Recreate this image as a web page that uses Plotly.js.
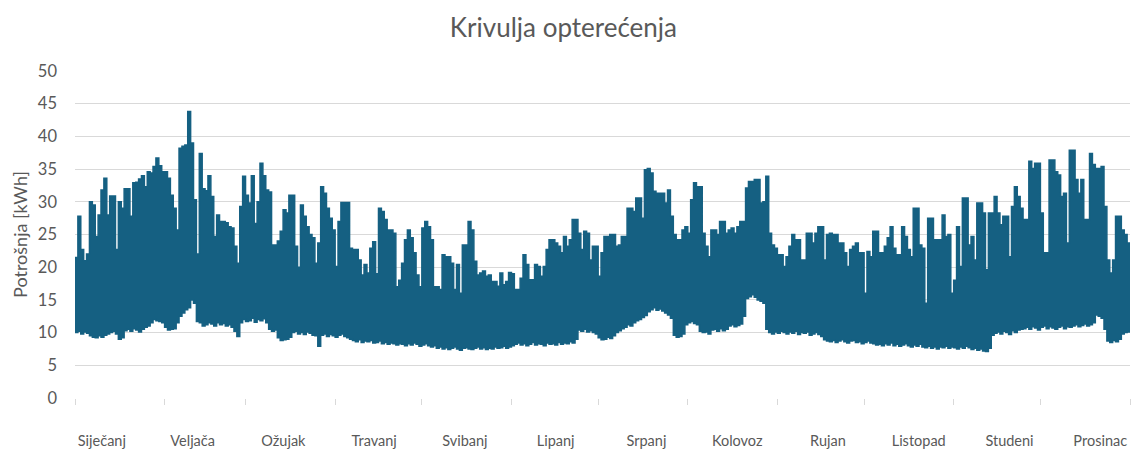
<!DOCTYPE html>
<html>
<head>
<meta charset="utf-8">
<script src="https://cdn.plot.ly/plotly-3.0.1.min.js"></script>
<style>
  html, body { margin: 0; padding: 0; background: #ffffff; }
  #chart { width: 1136px; height: 450px; }
</style>
</head>
<body>
<div id="chart"></div>
<script>
// Month names shown under the axis and the length of each month in days
const monthLabels = ['Siječanj', 'Veljača', 'Ožujak', 'Travanj', 'Svibanj', 'Lipanj',
                     'Srpanj', 'Kolovoz', 'Rujan', 'Listopad', 'Studeni', 'Prosinac'];
const daysInMonth = [31, 28, 31, 30, 31, 30, 31, 31, 30, 31, 30, 31];

// Daily peak consumption [kWh], one value per day of the year
const dailyPeak = [
  21.5, 27.8, 22.7, 21.0, 22.0, 30.0, 29.5, 24.7, 28.0, 31.8,
  33.6, 28.0, 30.9, 30.9, 22.7, 30.0, 29.0, 32.0, 32.0, 27.8,
  32.9, 33.0, 33.5, 34.0, 32.3, 34.6, 34.4, 35.4, 36.7, 35.5,
  34.6, 34.6, 33.6, 31.0, 29.0, 25.7, 38.2, 38.5, 38.7, 43.8,
  39.0, 30.3, 22.0, 37.4, 32.0, 31.7, 34.0, 30.8, 24.7, 28.0,
  27.0, 27.0, 26.8, 26.2, 26.0, 23.2, 20.6, 29.3, 33.9, 31.0,
  29.8, 34.0, 26.7, 30.0, 35.9, 34.0, 31.8, 31.5, 23.4, 23.4,
  24.0, 25.5, 28.8, 28.3, 31.0, 31.0, 23.2, 20.0, 29.5, 27.8,
  26.2, 25.0, 24.5, 20.6, 23.7, 32.3, 31.3, 29.0, 27.5, 25.7,
  20.1, 27.0, 29.9, 29.9, 29.9, 22.9, 22.7, 22.7, 21.1, 18.8,
  20.4, 19.1, 22.9, 23.9, 19.0, 29.0, 28.5, 27.3, 25.7, 25.7,
  25.2, 17.0, 18.0, 20.6, 24.2, 25.7, 24.5, 22.2, 18.8, 17.0,
  26.0, 27.0, 26.2, 24.2, 17.0, 17.0, 16.6, 21.9, 21.6, 21.6,
  20.6, 16.6, 20.4, 16.0, 23.4, 23.4, 27.0, 25.7, 20.9, 18.8,
  19.1, 19.4, 18.6, 18.8, 17.8, 17.8, 17.1, 19.1, 17.3, 17.8,
  19.2, 19.0, 16.6, 16.6, 18.3, 21.9, 20.4, 18.1, 18.1, 20.4,
  20.1, 18.6, 20.1, 22.7, 24.2, 24.2, 23.7, 23.2, 22.2, 24.7,
  23.2, 24.2, 27.3, 27.3, 25.2, 22.7, 25.5, 25.2, 21.1, 23.2,
  23.2, 18.6, 22.2, 24.7, 24.7, 25.0, 25.0, 23.2, 23.4, 24.7,
  24.7, 29.0, 29.0, 28.5, 30.6, 30.6, 27.5, 34.9, 35.1, 34.4,
  31.6, 31.3, 31.3, 31.3, 29.8, 31.8, 27.8, 25.0, 24.2, 24.2,
  25.7, 26.2, 25.2, 30.3, 32.9, 32.3, 32.3, 25.2, 23.2, 21.6,
  25.7, 25.7, 25.0, 27.0, 27.0, 25.2, 25.7, 26.0, 25.2, 26.2,
  27.0, 27.0, 32.1, 33.1, 33.1, 33.4, 33.4, 29.8, 30.0, 33.9,
  25.2, 23.4, 22.9, 21.9, 21.9, 20.1, 21.6, 23.2, 25.0, 24.2,
  24.2, 21.1, 21.1, 25.2, 25.2, 23.7, 25.2, 26.2, 26.2, 21.1,
  25.0, 25.2, 25.0, 25.0, 23.7, 23.7, 22.2, 20.1, 22.7, 23.2,
  23.7, 22.2, 22.2, 16.0, 22.4, 21.6, 25.5, 25.5, 22.2, 22.2,
  23.2, 24.5, 26.2, 22.9, 21.9, 21.9, 26.2, 24.7, 22.7, 21.6,
  29.0, 29.0, 23.4, 22.9, 14.5, 27.5, 27.5, 24.2, 24.2, 24.2,
  28.0, 24.7, 25.0, 16.0, 18.0, 26.2, 20.1, 30.6, 30.6, 23.4,
  24.7, 21.1, 29.8, 29.8, 28.3, 19.6, 28.3, 28.3, 30.8, 28.3,
  26.5, 27.8, 27.8, 21.6, 29.3, 32.3, 30.8, 29.0, 27.3, 27.3,
  36.2, 35.1, 35.9, 35.9, 28.3, 22.2, 22.2, 36.4, 36.4, 34.6,
  34.1, 30.8, 31.3, 23.7, 37.9, 37.9, 33.4, 31.3, 33.4, 27.3,
  27.3, 37.4, 35.7, 35.1, 35.1, 35.4, 29.3, 21.1, 19.1, 21.1,
  27.8, 27.8, 25.7, 25.0, 23.7
];

// Daily minimum (night-time base) consumption [kWh], one value per day
const dailyBase = [
  10.0, 10.2, 9.8, 10.1, 9.9, 9.5, 9.3, 9.2, 9.5, 9.3,
  9.6, 9.8, 10.0, 10.2, 9.8, 9.0, 9.2, 10.3, 10.5, 10.2,
  10.6, 10.4, 10.1, 10.5, 10.8, 11.0, 11.5, 12.0, 11.8, 11.7,
  11.5, 10.8, 10.4, 10.5, 10.6, 11.5, 12.5, 13.0, 13.5, 13.8,
  15.0, 14.5, 11.7, 11.5, 11.0, 11.2, 11.5, 11.3, 11.0, 11.5,
  11.2, 11.4, 11.0, 11.2, 10.8, 10.2, 9.4, 11.5, 12.0, 11.7,
  11.8, 12.2, 11.6, 12.0, 11.8, 12.1, 11.5, 10.5, 10.2, 10.4,
  9.2, 8.8, 8.9, 9.0, 9.3, 10.0, 10.2, 9.8, 10.0, 9.7,
  10.1, 9.9, 9.6, 9.5, 7.9, 9.6, 9.8, 9.4, 9.7, 9.5,
  9.3, 9.6, 9.8, 9.4, 9.2, 9.0, 8.8, 8.6, 8.9, 8.5,
  8.7, 8.6, 8.8, 8.4, 8.5, 8.7, 8.3, 8.5, 8.2, 8.4,
  8.3, 8.1, 8.3, 8.2, 8.0, 8.3, 8.1, 8.4, 8.2, 7.9,
  8.1, 8.3, 8.0, 7.8, 8.0, 7.6, 7.8, 7.5, 7.7, 7.4,
  7.6, 7.8, 7.5, 7.3, 7.6, 7.7, 7.5, 7.4, 7.6, 7.8,
  7.5, 7.7, 7.4, 7.6, 7.5, 7.8, 7.6, 7.7, 7.9, 7.6,
  7.8, 8.0, 8.2, 8.4, 8.1, 8.3, 8.0, 8.2, 8.5, 8.1,
  8.3, 8.2, 8.0, 8.4, 8.2, 8.3, 8.1, 8.5, 8.2, 8.4,
  8.3, 8.6, 8.4, 9.0, 10.4, 10.2, 10.5, 10.1, 10.3, 10.0,
  9.8, 9.2, 8.9, 9.0, 9.3, 9.1, 9.5, 10.0, 10.3, 10.6,
  10.8, 11.2, 11.0, 11.5, 11.8, 12.0, 12.3, 12.6, 13.2, 13.5,
  13.8, 13.4, 13.6, 13.3, 13.0, 12.7, 12.2, 9.6, 9.3, 9.4,
  9.8, 11.2, 11.5, 11.7, 11.4, 11.2, 10.2, 10.0, 10.1, 9.8,
  10.4, 10.5, 10.2, 10.6, 10.3, 10.5, 11.0, 11.2, 10.9, 11.1,
  11.3, 12.5, 15.2, 15.5, 15.8, 15.4, 15.0, 14.8, 14.5, 10.5,
  10.0, 9.8, 10.1, 9.9, 10.2, 10.0, 9.8, 10.1, 9.9, 10.2,
  9.7, 10.0, 9.9, 10.1, 9.6, 9.8, 10.0, 9.7, 9.4, 8.9,
  8.7, 8.6, 8.8, 8.5, 8.7, 8.9, 8.6, 8.4, 8.7, 8.8,
  8.5, 8.6, 8.3, 8.5, 8.7, 8.4, 8.3, 8.1, 8.2, 8.0,
  8.3, 8.1, 8.4, 8.0, 8.2, 7.9, 8.1, 8.3, 8.0, 7.8,
  8.1, 7.9, 8.2, 7.8, 7.7, 7.9, 7.6, 7.8, 7.5, 7.8,
  7.7, 7.9, 7.6, 7.8, 7.7, 7.5, 7.8, 7.6, 7.9, 7.7,
  7.4, 7.6, 7.3, 7.5, 7.2, 7.1, 7.6, 9.6, 9.9, 10.1,
  9.8, 10.2, 10.0, 9.7, 10.3, 10.0, 10.4, 10.5, 10.6, 10.8,
  10.5, 10.9, 10.7, 10.4, 10.8, 11.0, 10.6, 10.9, 10.7, 10.5,
  10.8, 11.0, 10.6, 10.9, 10.8, 11.0, 11.2, 10.9, 11.1, 11.3,
  11.0, 11.2, 11.5, 12.7, 12.5, 12.2, 10.5, 8.7, 8.5, 8.8,
  8.6, 9.0, 9.8, 10.0, 10.1
];

const seriesColor = '#156082';
const textColor = '#595959';
const gridColor = '#d9d9d9';
const fontFamily = 'Lato, "Open Sans", sans-serif';

// Day index on the x axis; each day is drawn as a step one day wide,
// so the last step is closed at the end of the year.
const dayCount = dailyPeak.length;
const xDays = dailyPeak.map((_, i) => i).concat([dayCount]);
const yPeak = dailyPeak.concat([dailyPeak[dayCount - 1]]);
const yBase = dailyBase.concat([dailyBase[dayCount - 1]]);

// Tick marks sit on month boundaries
const monthStarts = [0];
daysInMonth.forEach(d => monthStarts.push(monthStarts[monthStarts.length - 1] + d));

// Month labels are spread evenly along the axis
const labelStart = 9.3;
const labelStep = 31.4;
const labelPositions = monthLabels.map((_, i) => labelStart + i * labelStep);

const traces = [
  {
    x: xDays, y: yBase, type: 'scatter', mode: 'lines',
    line: { color: seriesColor, width: 1.5, shape: 'hv' },
    hoverinfo: 'skip', showlegend: false
  },
  {
    x: xDays, y: yPeak, type: 'scatter', mode: 'lines',
    fill: 'tonexty', fillcolor: seriesColor,
    line: { color: seriesColor, width: 1.5, shape: 'hv' },
    name: 'Potrošnja', showlegend: false
  }
];

const layout = {
  width: 1136, height: 450,
  margin: { l: 75, r: 6, t: 71, b: 52 },
  paper_bgcolor: '#ffffff', plot_bgcolor: '#ffffff',
  font: { family: fontFamily, color: textColor },
  title: {
    text: 'Krivulja opterećenja',
    font: { family: fontFamily, size: 26, color: textColor },
    xref: 'container', x: 0.496, xanchor: 'center',
    yref: 'container', y: 0.938, yanchor: 'middle'
  },
  xaxis: {
    range: [0, dayCount],
    tickmode: 'array', tickvals: labelPositions, ticktext: monthLabels,
    ticks: '', ticklabelstandoff: 32,
    tickfont: { family: fontFamily, size: 14.5, color: textColor },
    showgrid: false, zeroline: false, showline: false,
    minor: { tickmode: 'array', tickvals: monthStarts, ticks: 'outside', ticklen: 6,
             tickcolor: gridColor, tickwidth: 1, showgrid: false },
    fixedrange: true
  },
  yaxis: {
    range: [0, 50], dtick: 5, tick0: 0,
    ticks: '', ticklabelstandoff: 17,
    tickfont: { family: fontFamily, size: 16.5, color: textColor },
    gridcolor: gridColor, gridwidth: 1,
    zeroline: false, showline: false,
    title: { text: 'Potrošnja [kWh]', standoff: 5,
             font: { family: fontFamily, size: 18, color: textColor } },
    fixedrange: true
  }
};

Plotly.newPlot('chart', traces, layout, { displayModeBar: false, staticPlot: true });
</script>
</body>
</html>
